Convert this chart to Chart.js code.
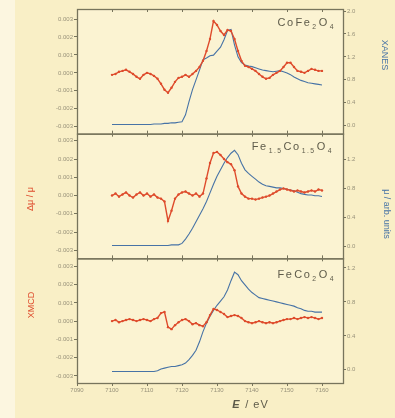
<!DOCTYPE html>
<html><head><meta charset="utf-8">
<script src="https://cdn.jsdelivr.net/npm/chart.js@4"></script>
<style>
html,body{margin:0;padding:0;background:#F9EFC6;}
#wrap{position:relative;width:395px;height:418px;overflow:hidden;}
#strip{position:absolute;left:0;top:0;width:15px;height:418px;background:#FCF6E0;}
#c{position:absolute;left:0;top:0;}
</style></head><body>
<div id="wrap"><div id="strip"></div><canvas id="c" width="395" height="418"></canvas></div>
<script>
// Photon energy (eV)
const energy = [7100,7101,7102,7103,7104,7105,7106,7107,7108,7109,
 7110,7111,7112,7113,7114,7115,7116,7117,7118,7119,
 7120,7121,7122,7123,7124,7125,7126,7127,7128,7129,
 7130,7131,7132,7133,7134,7135,7136,7137,7138,7139,
 7140,7141,7142,7143,7144,7145,7146,7147,7148,7149,
 7150,7151,7152,7153,7154,7155,7156,7157,7158,7159,7160];

// Panel names
const samples = [["Co",0,"Fe",0,"2",1,"O",0,"4",1],
                 ["Fe",0,"1.5",1,"Co",0,"1.5",1,"O",0,"4",1],
                 ["Fe",0,"Co",0,"2",1,"O",0,"4",1]];

// XMCD (Δμ/μ, in units of 10^-3)
const xmcdCoFe2O4 = [-0.11,-0.06,0.06,0.11,0.17,0.06,-0.06,-0.22,-0.33,-0.11,
 0,-0.06,-0.17,-0.33,-0.61,-0.94,-1.11,-0.83,-0.5,-0.28,
 -0.22,-0.11,-0.22,-0.06,0.11,0.33,0.67,1.22,1.89,2.89,
 2.67,2.33,2.11,2.39,2.33,1.89,1.22,0.67,0.39,0.33,
 0.22,0.11,-0.06,-0.22,-0.33,-0.28,-0.11,0,0.11,0.33,
 0.56,0.56,0.33,0.11,0.06,0,0.11,0.22,0.17,0.11,0.11];
const xmcdFe15Co15O4 = [0,0.11,-0.06,0.06,0.17,0,-0.11,0.06,0.17,0,
 0.11,-0.06,0.06,-0.11,-0.17,-0.33,-1.39,-0.83,-0.17,0.06,
 0.17,0.22,0.11,0,0.11,-0.06,0.11,0.94,1.78,2.33,
 2.39,2.22,2.0,1.83,1.72,1.39,0.5,0.11,-0.06,-0.17,
 -0.17,-0.22,-0.17,-0.11,-0.06,0,0.11,0.22,0.33,0.39,
 0.33,0.28,0.22,0.28,0.22,0.17,0.22,0.28,0.22,0.33,0.28];
const xmcdFeCo2O4 = [0,0.06,-0.06,0,0.06,0.11,0.06,0,0.06,0.11,
 0.06,0,0.11,0.17,0.44,0.5,-0.33,-0.44,-0.22,-0.06,
 0.06,0.11,0,-0.17,-0.11,-0.22,-0.28,-0.06,0.33,0.67,
 0.61,0.5,0.39,0.22,0.28,0.33,0.28,0.17,0,-0.06,
 -0.11,-0.06,0,-0.06,-0.11,-0.06,-0.11,-0.06,0,0.06,
 0.11,0.11,0.17,0.11,0.17,0.22,0.17,0.22,0.17,0.11,0.17];

// XANES (μ, arb. units)
const xanesCoFe2O4 = [0.02,0.02,0.02,0.02,0.02,0.02,0.02,0.02,0.02,0.02,
 0.02,0.02,0.03,0.03,0.03,0.04,0.04,0.05,0.05,0.06,
 0.07,0.19,0.42,0.63,0.80,0.97,1.15,1.18,1.22,1.23,
 1.30,1.37,1.50,1.66,1.68,1.41,1.20,1.10,1.06,1.04,
 1.03,1.01,0.99,0.97,0.96,0.95,0.94,0.95,0.96,0.94,
 0.92,0.89,0.85,0.82,0.79,0.77,0.75,0.74,0.73,0.72,0.71];
const xanesFe15Co15O4 = [0.01,0.01,0.01,0.01,0.01,0.01,0.01,0.01,0.01,0.01,
 0.01,0.01,0.01,0.01,0.01,0.01,0.01,0.02,0.02,0.02,
 0.04,0.10,0.17,0.25,0.34,0.43,0.52,0.62,0.74,0.86,
 0.97,1.06,1.15,1.23,1.29,1.33,1.27,1.15,1.06,1.01,
 0.97,0.93,0.89,0.86,0.84,0.83,0.82,0.81,0.81,0.80,
 0.79,0.78,0.77,0.75,0.73,0.72,0.71,0.71,0.70,0.70,0.69];
const xanesFeCo2O4 = [-0.02,-0.02,-0.02,-0.02,-0.02,-0.02,-0.02,-0.02,-0.02,-0.02,
 -0.02,-0.02,-0.02,-0.01,0.01,0.02,0.03,0.04,0.04,0.05,
 0.06,0.08,0.12,0.17,0.23,0.33,0.45,0.55,0.63,0.70,
 0.76,0.81,0.86,0.94,1.05,1.15,1.12,1.05,1.00,0.95,
 0.91,0.88,0.85,0.84,0.83,0.82,0.81,0.80,0.79,0.78,
 0.77,0.76,0.75,0.73,0.72,0.70,0.69,0.69,0.68,0.68,0.68];

// Axis tick settings
const xTickStep = 10;
const leftTickStep = 1;    // 10^-3
const rightTickStep = 0.4;

const RED = '#DE4B2C', BLUE = '#4773A6', FRAME = '#77745C', TICKC = '#98927A';
const pts = arr => energy.map((e,i)=>({x:e,y:arr[i]}));

function redSet(arr, axis){ return {data:pts(arr), yAxisID:axis, borderColor:RED, backgroundColor:RED,
  borderWidth:1.4, pointRadius:1.2, pointBorderWidth:0, pointBackgroundColor:RED, tension:0}; }
function blueSet(arr, axis){ return {data:pts(arr), yAxisID:axis, borderColor:BLUE, borderWidth:1.1,
  pointRadius:0, tension:0}; }

const tickFont = {family:'Liberation Sans', size:6};
function leftAxis(min,max){ return {type:'linear', position:'left', stack:'L', stackWeight:1, min, max,
  grid:{drawOnChartArea:false, drawTicks:true, tickLength:3, color:FRAME},
  border:{display:false},
  ticks:{stepSize:leftTickStep, includeBounds:false, font:tickFont, color:TICKC, padding:1,
    callback:v=>(v/1000).toFixed(3)},
  afterFit:s=>{s.width=77;}}; }
function rightAxis(min,max){ return {type:'linear', position:'right', stack:'R', stackWeight:1, min, max,
  grid:{drawOnChartArea:false, drawTicks:true, tickLength:3, color:FRAME},
  border:{display:false},
  ticks:{stepSize:rightTickStep, includeBounds:false, font:tickFont, color:TICKC, padding:1,
    callback:v=>v.toFixed(1)},
  afterFit:s=>{s.width=52;}}; }

function richText(ctx, parts, xRight, y, size){
  const segs=[]; let w=0;
  ctx.letterSpacing='1.5px';
  for(let i=0;i<parts.length;i+=2){
    const sub=parts[i+1]; const fs= sub? size*0.62 : size;
    ctx.font = fs+'px "Liberation Sans"';
    const mw = ctx.measureText(parts[i]).width;
    segs.push({t:parts[i], fs, sub, w:mw}); w+=mw+1;
  }
  let x = xRight - w;
  ctx.fillStyle='#5E5B4A'; ctx.textBaseline='middle'; ctx.textAlign='left';
  for(const s of segs){
    ctx.font = s.fs+'px "Liberation Sans"';
    ctx.fillText(s.t, x, s.sub? y+4 : y);
    x += s.w+1;
  }
  ctx.letterSpacing='0px';
}

const decor = {
  id:'decor',
  beforeDraw(chart){
    const {ctx, chartArea:a} = chart;
    ctx.save(); ctx.fillStyle='#FBF3D2'; ctx.fillRect(a.left,a.top,a.right-a.left,a.bottom-a.top); ctx.restore();
  },
  afterDraw(chart){
    const {ctx, chartArea:a, scales} = chart;
    ctx.save();
    ctx.strokeStyle=FRAME; ctx.lineWidth=1.3;
    const panels=[scales.yL1, scales.yL2, scales.yL3];
    panels.forEach(s=>{ ctx.strokeRect(a.left+0.5, s.top+0.5, a.right-a.left, s.bottom-s.top); });
    ctx.lineWidth=1;
    const xs=scales.x;
    xs.ticks.forEach(t=>{
      const px=Math.round(xs.getPixelForValue(t.value))+0.5;
      panels.forEach((s,i)=>{
        ctx.beginPath(); ctx.moveTo(px,s.top); ctx.lineTo(px,s.top+3);
        if(i<2){ ctx.moveTo(px,s.bottom); ctx.lineTo(px,s.bottom-3); }
        ctx.stroke();
      });
    });
    richText(ctx, samples[0], a.right-7, scales.yL1.top+14, 11);
    richText(ctx, samples[1], a.right-9, scales.yL2.top+13, 11);
    richText(ctx, samples[2], a.right-7, scales.yL3.top+17, 11);
    function vtext(txt, x, y, rot, color, size){
      ctx.save(); ctx.translate(x,y); ctx.rotate(rot); ctx.fillStyle=color;
      ctx.font=size+'px "Liberation Sans"'; ctx.textAlign='center'; ctx.textBaseline='middle';
      ctx.fillText(txt,0,0); ctx.restore();
    }
    vtext('Δμ / μ', 31, 199, -Math.PI/2, RED, 9);
    vtext('XMCD', 32, 305, -Math.PI/2, RED, 9);
    vtext('XANES', 384, 55, Math.PI/2, BLUE, 9);
    vtext('μ / arb. units', 386, 214, Math.PI/2, BLUE, 9);
    ctx.fillStyle='#5E5B4A'; ctx.textAlign='center'; ctx.textBaseline='middle';
    ctx.font='bold italic 11px "Liberation Sans"';
    ctx.fillText('E', 236, 405);
    ctx.font='11px "Liberation Sans"';
    ctx.letterSpacing='1px';
    ctx.fillText('/ eV', 257, 405);
    ctx.restore();
  }
};

new Chart(document.getElementById('c'), {
  type:'line',
  data:{datasets:[
    redSet(xmcdCoFe2O4,'yL1'), redSet(xmcdFe15Co15O4,'yL2'), redSet(xmcdFeCo2O4,'yL3'),
    blueSet(xanesCoFe2O4,'yR1'), blueSet(xanesFe15Co15O4,'yR2'), blueSet(xanesFeCo2O4,'yR3')
  ]},
  options:{
    responsive:false, animation:false, devicePixelRatio:1,
    layout:{padding:{top:9,left:0,right:0,bottom:0}},
    plugins:{legend:{display:false}, tooltip:{enabled:false}},
    scales:{
      x:{type:'linear', min:7090, max:7166,
        grid:{drawOnChartArea:false, drawTicks:true, tickLength:3, color:FRAME},
        border:{display:false},
        ticks:{stepSize:xTickStep, includeBounds:false, font:tickFont, color:TICKC, padding:1, maxRotation:0,
          callback:v=>String(v)},
        afterFit:s=>{s.height=35;}},
      yL3: leftAxis(-3.39, 3.44),
      yL2: leftAxis(-3.44, 3.39),
      yL1: leftAxis(-3.39, 3.56),
      yR1: rightAxis(-0.139, 2.035),
      yR2: rightAxis(-0.167, 1.561),
      yR3: rightAxis(-0.155, 1.313)
    }
  },
  plugins:[decor]
});
</script>
</body></html>
